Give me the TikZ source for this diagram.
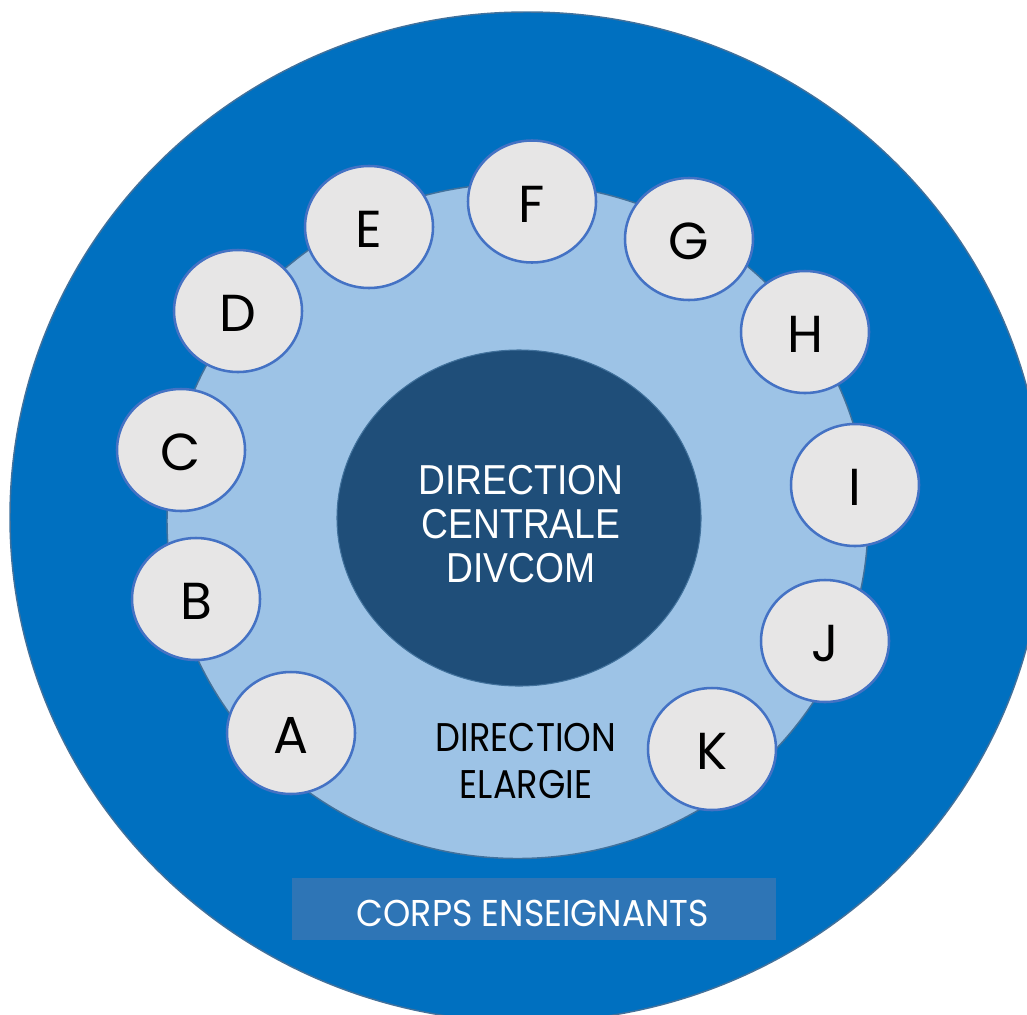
\documentclass[tikz,border=0pt]{standalone}
\usepackage{fontspec}
\setmainfont{Poppins}
\newfontfamily\centralfont[FakeStretch=0.89]{Liberation Sans}
\newfontfamily\geofont[FakeStretch=0.88]{Poppins}
\newfontfamily\bandfont[FakeStretch=0.93]{Poppins}
\newfontfamily\letterfont{Poppins}
\usetikzlibrary{shapes.geometric}
\definecolor{outerblue}{HTML}{0070C0}
\definecolor{edgeblue}{HTML}{41719C}
\definecolor{lightblue}{HTML}{9DC3E6}
\definecolor{darkblue}{HTML}{1F4E79}
\definecolor{memberfill}{HTML}{E7E6E6}
\definecolor{memberedge}{HTML}{4472C4}
\definecolor{bandblue}{HTML}{2E75B6}
\begin{document}
\begin{tikzpicture}[x=0.75pt,y=-0.75pt,
  ring/.style={ellipse, inner sep=0pt, outer sep=0pt},
  member/.style={ring, draw=memberedge, line width=1.9pt, fill=memberfill,
    minimum width=96pt, minimum height=91.5pt, text height=31pt, text depth=0pt,
    font=\letterfont\fontsize{39}{42}\selectfont, text=black}]
\useasboundingbox (0,0) rectangle (1027,1014);
\clip (0,0) rectangle (1027,1014);
\node[ring, fill=outerblue, draw=edgeblue, line width=1.1pt,
  minimum width=775.5pt, minimum height=757.5pt] (corps) at (527,517) {};
\node[ring, fill=lightblue, draw=edgeblue, line width=1.1pt,
  minimum width=525.75pt, minimum height=506.25pt] (elargie) at (517.5,521) {};
\node[ring, fill=darkblue, draw=edgeblue, line width=0.8pt,
  minimum width=273pt, minimum height=252pt] (centrale) at (519,518) {};
\node[text=white, align=center, inner sep=0pt,
  font=\centralfont\fontsize{31.4}{33}\selectfont] (centraletext) at (521,524)
  {DIRECTION\\CENTRALE\\DIVCOM};
\node[text=black, align=center, inner sep=0pt,
  font=\geofont\fontsize{30}{35.25}\selectfont] (elargietext) at (526,761)
  {DIRECTION\\ELARGIE};
\node[fill=bandblue, inner sep=0pt, minimum width=363pt, minimum height=46.5pt] (band) at (534,909) {};
\node[text=white, inner sep=0pt, font=\bandfont\fontsize{28}{30}\selectfont] (bandtext) at (533,913) {CORPS ENSEIGNANTS};
\node[member] (A) at (291,733) {A};
\node[member] (B) at (196,599) {B};
\node[member] (C) at (181,450) {C};
\node[member] (D) at (238,311) {D};
\node[member] (E) at (369,227) {E};
\node[member] (F) at (532,201.5) {F};
\node[member] (G) at (689,239) {G};
\node[member] (H) at (805,332) {H};
\node[member] (I) at (855,485) {I};
\node[member] (J) at (825,641) {J};
\node[member] (K) at (712,749) {K};
\end{tikzpicture}
\end{document}
